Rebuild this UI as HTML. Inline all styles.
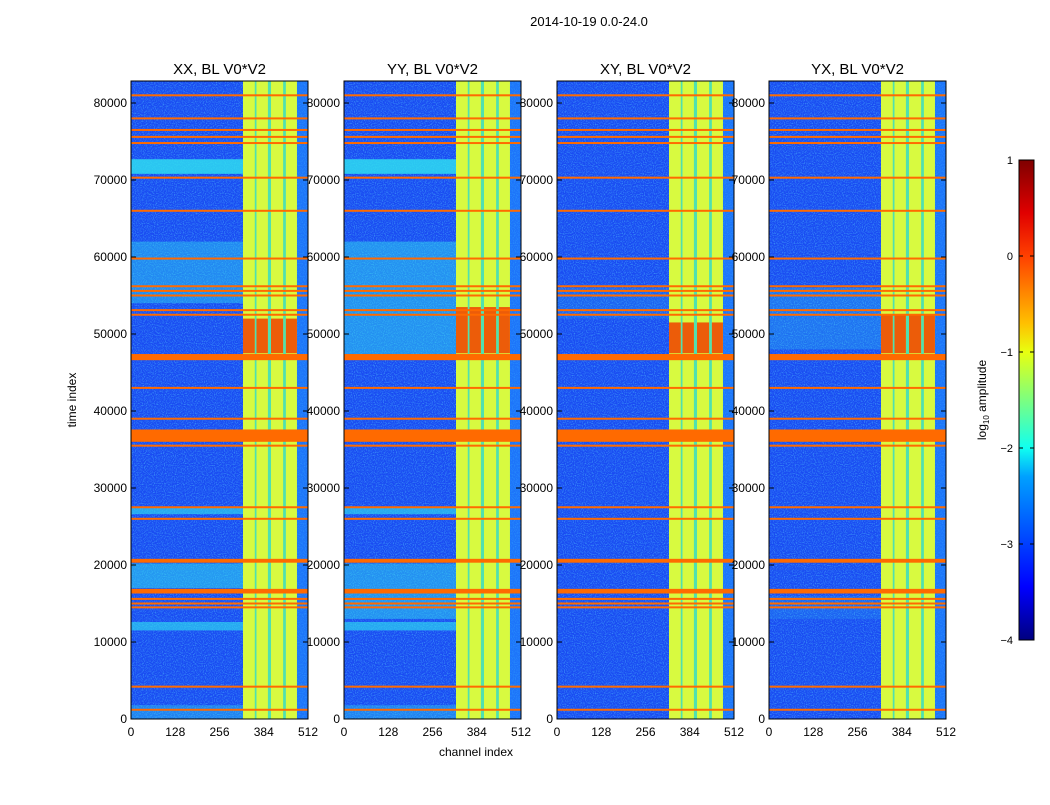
<!DOCTYPE html>
<html><head><meta charset="utf-8"><style>
body{margin:0;background:#fff;font-family:"Liberation Sans",sans-serif}
svg text{font-family:"Liberation Sans","DejaVu Sans",sans-serif}
</style></head><body>
<svg id="fig" width="1050" height="800" xmlns="http://www.w3.org/2000/svg">
<defs>
<filter id="noise" x="0" y="0" width="100%" height="100%">
<feTurbulence type="fractalNoise" baseFrequency="0.9" numOctaves="1" seed="3" result="t"/>
<feColorMatrix in="t" type="matrix" values="0 0 0 0 0.1  0 0 0 0 0.7  0 0 0 0 1  0 0 0 2 -0.9"/>
<feComposite in2="SourceGraphic" operator="in"/>
</filter>
<linearGradient id="jet" x1="0" y1="1" x2="0" y2="0">
<stop offset="0" stop-color="#00007f"/><stop offset="0.11" stop-color="#0000ff"/>
<stop offset="0.34" stop-color="#00a0ff"/><stop offset="0.4" stop-color="#10fff0"/>
<stop offset="0.6" stop-color="#e8ff10"/><stop offset="0.66" stop-color="#ffc000"/>
<stop offset="0.8" stop-color="#ff4000"/><stop offset="0.89" stop-color="#e00000"/>
<stop offset="1" stop-color="#7f0000"/>
</linearGradient>
</defs>
<text x="589" y="26" font-size="13" text-anchor="middle">2014-10-19 0.0-24.0</text>
<text transform="translate(76,400) rotate(-90)" font-size="12" text-anchor="middle">time index</text>
<text x="476" y="756" font-size="12" text-anchor="middle">channel index</text>
<g id="panels"></g>
<g>
<rect x="1019" y="160" width="15" height="480" fill="url(#jet)" stroke="#000" stroke-width="1"/>
<g id="cbticks"></g>
<text transform="translate(986,400) rotate(-90)" font-size="12" text-anchor="middle">log<tspan font-size="8" dy="3">10</tspan><tspan dy="-3"> amplitude</tspan></text>
</g>
</svg>
<script>
const panelTitles=["XX, BL V0*V2","YY, BL V0*V2","XY, BL V0*V2","YX, BL V0*V2"];
const panelLefts=[131,344,557,769];
const yTicks=[0,10000,20000,30000,40000,50000,60000,70000,80000];
const xTicks=[0,128,256,384,512];
const rfiLines=[1200,4200,14500,15000,15600,26000,27500,35500,39000,43000,52500,53100,55000,55600,56200,59800,66000,70300,74800,75600,76500,78000,81000];
const rfiBlocks=[[36000,37600],[46600,47400],[16300,16900],[20300,20800]];
const brightCols=[[324,358],[363,396],[405,440],[448,480]];
const cyanBands=[
 [[70800,72700,0.8],[54000,62000,0.4],[11500,12600,0.6],[17000,20200,0.5],[26600,27400,0.6],[0,1800,0.35]],
 [[70800,72700,0.8],[47000,62000,0.45],[11500,12600,0.6],[13000,20200,0.45],[26600,27400,0.6],[0,1800,0.35]],
 [[52000,56000,0.15]],
 [[48000,56000,0.25],[13000,16000,0.15]]
];
const redBands=[[[47500,52000]],[[47500,53500]],[[47500,51500]],[[47500,52500]]];
const colorbarTicks=[1,0,-1,-2,-3,-4];
const NS="http://www.w3.org/2000/svg";
const PW=177, Y0=719, PPU=0.0077;
function yScale(t){return Y0-t*PPU;}
function mk(tag,attrs,parent){const e=document.createElementNS(NS,tag);for(const k in attrs)e.setAttribute(k,attrs[k]);parent.appendChild(e);return e;}
const root=document.getElementById('panels');
panelTitles.forEach((title,p)=>{
 const x0=panelLefts[p];
 const xs=c=>x0+c*PW/512;
 const g=mk('g',{},root);
 
 
 const top=81;
 let r=mk('rect',{x:x0,y:top,width:PW,height:Y0-top,fill:'#1a4cf2'},g);
 
 
 r=mk('rect',{x:x0,y:top,width:PW,height:Y0-top,fill:'#000',filter:'url(#noise)',opacity:0.7},g);
 
 
 cyanBands[p].forEach(b=>{
  const e=mk('rect',{x:x0,y:yScale(b[1]),width:xs(324)-x0,height:yScale(b[0])-yScale(b[1]),fill:'#30e4f0',opacity:b[2]},g);
  
  
 });
 r=mk('rect',{x:xs(480),y:top,width:xs(512)-xs(480),height:Y0-top,fill:'#2090ff',opacity:0.6},g);
 
 
 r=mk('rect',{x:xs(324),y:top,width:xs(480)-xs(324),height:Y0-top,fill:'#50e0b0'},g);
 
 
 brightCols.forEach(c=>{
  const e=mk('rect',{x:xs(c[0]),y:top,width:xs(c[1])-xs(c[0]),height:Y0-top,fill:'#d8fa40'},g);
  
  
  redBands[p].forEach(b=>{
   const q=mk('rect',{x:xs(c[0]),y:yScale(b[1]),width:xs(c[1])-xs(c[0]),height:yScale(b[0])-yScale(b[1]),fill:'#f04000',opacity:0.85},g);
   
   
  });
 });
 rfiLines.forEach(t=>{
  const e=mk('rect',{x:x0,y:yScale(t)-1,width:PW,height:2,fill:'#ff6a00'},g);
  
  
 });
 rfiBlocks.forEach(b=>{
  const e=mk('rect',{x:x0,y:yScale(b[1]),width:PW,height:yScale(b[0])-yScale(b[1]),fill:'#ff6a00'},g);
  
  
 });
 r=mk('rect',{x:x0,y:top,width:PW,height:Y0-top,fill:'none',stroke:'#000','stroke-width':1},g);
 
 
 let t=mk('text',{x:x0+PW/2,y:74,'font-size':15,'text-anchor':'middle'},g);
 t.textContent=title;
 
 
 yTicks.forEach(v=>{
  const y=yScale(v);
  mk('line',{x1:x0,x2:x0+5,y1:y,y2:y,stroke:'#000'},g);
  mk('line',{x1:x0+PW-5,x2:x0+PW,y1:y,y2:y,stroke:'#000'},g);
  const l=mk('text',{x:x0-4,y:y+4,'font-size':12,'text-anchor':'end'},g);
  l.textContent=v;
  
  
 });
 xTicks.forEach(v=>{
  const x=xs(v);
  const l=mk('text',{x:x,y:736,'font-size':12,'text-anchor':'middle'},g);
  l.textContent=v;
  
  
 });
});
const cb=document.getElementById('cbticks');
colorbarTicks.forEach(v=>{
 const y=160+(1-v)*96;
 mk('line',{x1:1019,x2:1023,y1:y,y2:y,stroke:'#000'},cb);
 mk('line',{x1:1030,x2:1034,y1:y,y2:y,stroke:'#000'},cb);
 const l=mk('text',{x:1013,y:y+4,'font-size':11,'text-anchor':'end'},cb);
 l.textContent=v<0?'\u2212'+(-v):String(v);
 
 
});
</script>
</body></html>
